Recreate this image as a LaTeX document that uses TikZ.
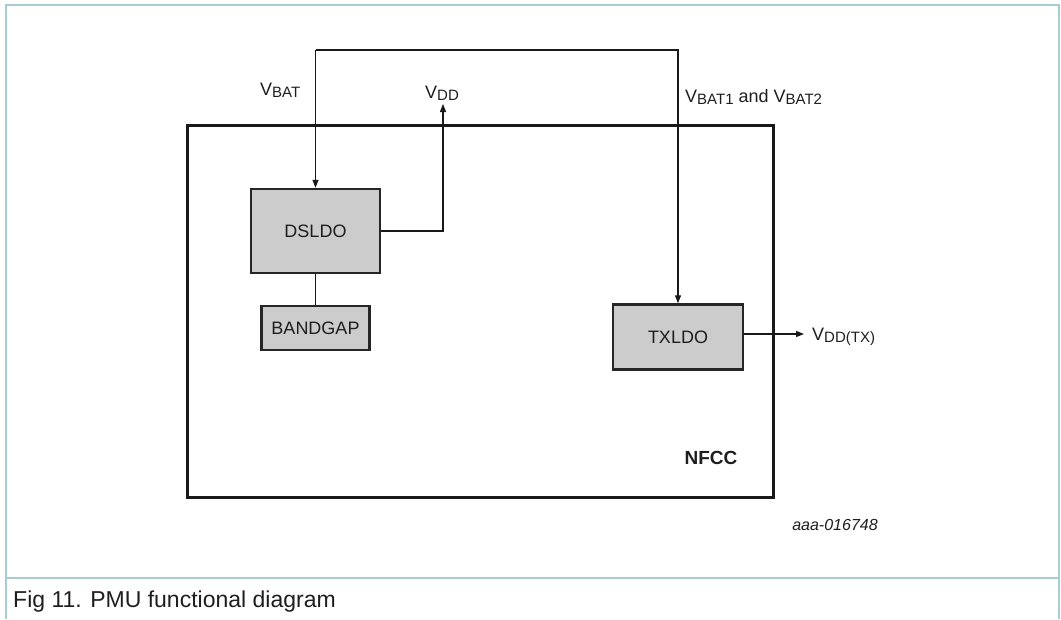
\documentclass[tikz,border=0pt]{standalone}
\usepackage{fontspec}
\setmainfont{Liberation Sans}
\usetikzlibrary{arrows.meta}
\definecolor{framec}{RGB}{168,204,212}
\definecolor{boxfill}{RGB}{204,204,204}
\definecolor{txtc}{RGB}{30,30,30}
\newcommand{\sbs}[1]{\raisebox{-2pt}{\fontsize{15}{15}\selectfont #1}}
\tikzset{
  blk/.style={draw=black!85, fill=boxfill, line width=2.4pt, inner sep=0pt, text=txtc, font=\fontsize{18}{20}\selectfont},
  wire/.style={line width=1.2pt, draw=black!90},
  arr/.style={wire, -{Triangle[length=8pt,width=6pt]}},
  lbl/.style={inner sep=0pt, anchor=base west, text=txtc, font=\fontsize{18}{20}\selectfont},
}
\begin{document}
\begin{tikzpicture}[x=1pt,y=-1pt]
\useasboundingbox (0,0) rectangle (1061,619);
% frame
\draw[framec, line width=2pt] (6,619) -- (6,5) -- (1059,5) -- (1059,619);
\draw[framec, line width=2pt] (6,578) -- (1059,578);
% NFCC box
\node[draw=black!90, line width=3pt, minimum width=586pt, minimum height=372pt, inner sep=0pt] (nfcc) at (480,311) {};
\node[inner sep=0pt, text=txtc, font=\bfseries\fontsize{19}{20}\selectfont] (nfcclbl) at (711,458) {NFCC};
% blocks
\node[blk, minimum width=129pt, minimum height=84pt] (dsldo) at (315.5,231) {DSLDO};
\node[blk, minimum width=108pt, minimum height=44pt] (bandgap) at (315.5,328) {BANDGAP};
\node[blk, minimum width=130pt, minimum height=65pt] (txldo) at (678,337) {TXLDO};
% coordinates
\coordinate (tl) at (315.5,50);
\coordinate (tr) at (678,50);
\coordinate (vddbend) at (443,231);
\coordinate (vddtip) at (443,104);
\coordinate (txout) at (804,334);
% connectors
\draw[arr] (tl) -- (dsldo.north);
\draw[arr] (tl) -- (tr) -- (txldo.north);
\draw[arr] (dsldo.east) -- (vddbend) -- (vddtip);
\draw[wire] (dsldo.south) -- (bandgap.north);
\draw[arr] (txldo.east |- txout) -- (txout);
% labels
\node[lbl] (vbat) at (260,95) {V\sbs{BAT}};
\node[lbl] (vdd) at (425,98) {V\sbs{DD}};
\node[lbl] (vbat12) at (685,102) {V\sbs{BAT1} and V\sbs{BAT2}};
\node[lbl] (vddtx) at (812,340) {V\sbs{DD(TX)}};
\node[inner sep=0pt, text=txtc, font=\itshape\fontsize{16}{18}\selectfont] (code) at (835,525) {aaa-016748};
\node[inner sep=0pt, anchor=base west, text=txtc, font=\fontsize{23}{26}\selectfont] (caption) at (13,607) {Fig 11. PMU functional diagram};
\end{tikzpicture}
\end{document}
